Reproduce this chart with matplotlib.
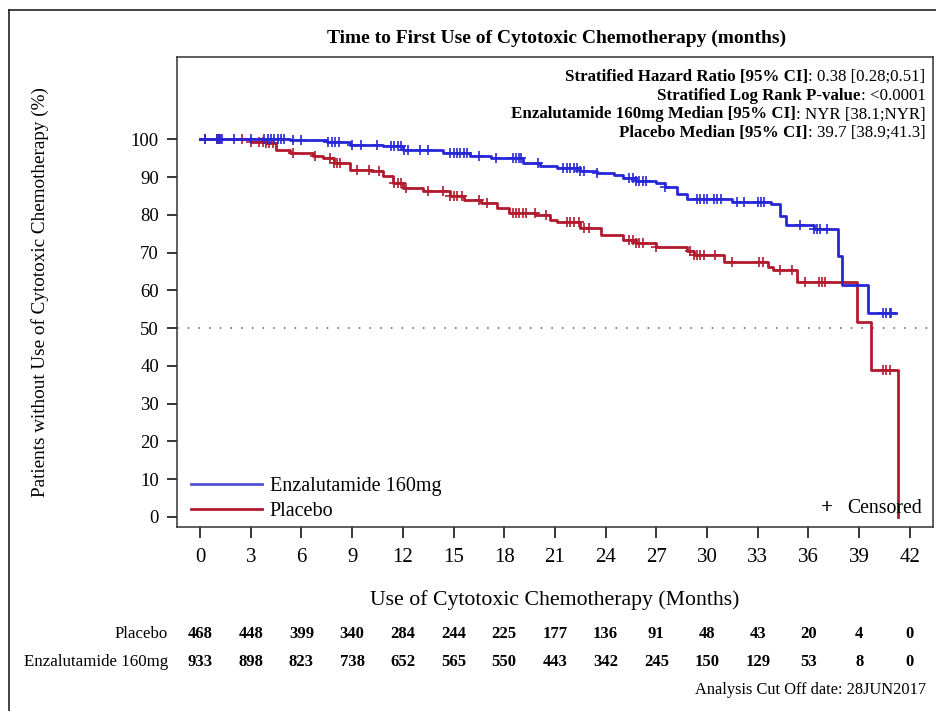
import matplotlib
matplotlib.use("Agg")
import matplotlib.pyplot as plt
import numpy as np
from matplotlib.lines import Line2D
from matplotlib.offsetbox import TextArea, HPacker, VPacker, AnchoredOffsetbox
from matplotlib.transforms import blended_transform_factory

plt.rcParams['font.family'] = ['Liberation Serif', 'DejaVu Serif']

# Kaplan-Meier step data (months, % without chemotherapy)
enza_t = [0, 5.3, 7.5, 8.9, 10.8, 12.0, 14.4, 16.0, 17.2, 19.1, 20.1, 21.1, 22.5,
          23.5, 24.5, 25.0, 25.8, 27.0, 27.5, 28.2, 28.8, 31.5, 33.8, 34.3, 34.7,
          36.3, 37.75, 37.97, 39.5]
enza_s = [100, 99.8, 99.4, 98.5, 98.1, 97.2, 96.4, 95.5, 95.0, 93.8, 92.8, 92.4, 91.5,
          91.0, 90.5, 89.8, 89.0, 88.3, 87.4, 85.5, 84.3, 83.5, 82.8, 79.6, 77.4,
          76.2, 69.0, 61.5, 54.0]
enza_end = 41.2

plac_t = [0, 3.0, 3.9, 4.5, 5.3, 6.7, 7.3, 7.9, 8.9, 10.1, 10.8, 11.4, 12.0, 13.2,
          14.8, 15.6, 16.6, 17.6, 18.3, 19.9, 20.7, 21.1, 22.5, 23.7, 25.0, 25.8,
          27.0, 28.8, 29.2, 31.0, 33.6, 33.9, 35.3, 38.85, 39.7, 41.3]
plac_s = [100, 99.4, 99.0, 97.2, 96.4, 95.5, 95.0, 93.7, 91.9, 91.5, 90.2, 88.4, 87.1,
          86.2, 84.9, 84.0, 83.1, 81.8, 80.5, 80.0, 78.7, 78.2, 76.6, 74.7, 73.4, 72.5,
          71.6, 70.3, 69.4, 67.6, 66.3, 65.4, 62.3, 51.7, 39.0, 0.0]
plac_end = 41.3

# censoring times
enza_cens = [0.3, 1.0, 1.1, 1.2, 1.3, 2.0, 3.0, 3.8, 4.0, 4.2, 4.4, 4.6, 4.8, 5.0, 5.5,
             6.0, 7.6, 7.8, 8.0, 8.2, 9.0, 9.5, 10.5, 11.3, 11.5, 11.7, 11.9, 12.1,
             12.3, 13.0, 13.5, 14.8, 15.0, 15.2, 15.4, 15.6, 15.8, 16.5, 17.5, 18.5,
             18.7, 18.9, 19.0, 20.0, 21.5, 21.7, 21.9, 22.1, 22.3, 22.5, 22.7, 23.5,
             25.4, 25.6, 25.8, 26.0, 26.2, 26.4, 27.5, 29.4, 29.6, 29.8, 30.0, 30.4,
             30.6, 30.8, 31.8, 32.2, 33.0, 33.2, 33.4, 35.5, 36.3, 36.5, 36.7, 37.1,
             40.4, 40.6, 40.8, 40.9]
plac_cens = [0.3, 1.0, 1.1, 1.2, 2.5, 3.0, 3.5, 3.7, 3.9, 4.1, 4.3, 5.5, 6.8, 7.7, 7.9,
             8.1, 8.3, 9.3, 10.0, 10.6, 11.5, 11.7, 11.9, 12.2, 13.5, 14.4, 14.8, 15.0,
             15.2, 15.5, 16.5, 17.0, 18.5, 18.7, 18.9, 19.1, 19.3, 19.8, 20.5, 21.7,
             21.9, 22.1, 22.4, 22.7, 23.0, 25.4, 25.6, 25.8, 26.0, 26.2, 27.0, 29.0,
             29.2, 29.4, 29.6, 29.8, 30.5, 31.5, 33.1, 33.3, 34.3, 35.0, 35.8, 36.6,
             36.8, 37.0, 40.4, 40.6, 40.8]

months = list(range(0, 43, 3))
risk_plac = [468, 448, 399, 340, 284, 244, 225, 177, 136, 91, 48, 43, 20, 4, 0]
risk_enza = [933, 898, 823, 738, 652, 565, 550, 443, 342, 245, 150, 129, 53, 8, 0]

stats_rows = [
    ("Stratified Hazard Ratio [95% CI]", ": 0.38 [0.28;0.51]"),
    ("Stratified Log Rank P-value", ": <0.0001"),
    ("Enzalutamide 160mg Median [95% CI]", ": NYR [38.1;NYR]"),
    ("Placebo Median [95% CI]", ": 39.7 [38.9;41.3]"),
]

blue = '#2727d8'
red = '#b21a2e'


def km_at(t, s, times):
    idx = np.searchsorted(t, times, side='right') - 1
    return np.asarray(s)[idx]


fig = plt.figure(figsize=(9.37, 7.11), dpi=100)
ax = fig.add_axes([177 / 937, 1 - 527 / 711, 756 / 937, 470 / 711])

# 50% reference
ax.axhline(50, color='#555555', lw=1.1, ls=(0, (1, 6)), zorder=1)

l_enza, = ax.step(enza_t + [enza_end], enza_s + [enza_s[-1]], where='post',
                  color=blue, lw=2.0, label='Enzalutamide 160mg', zorder=3)
l_plac, = ax.step(plac_t + [plac_end], plac_s + [plac_s[-1]], where='post',
                  color=red, lw=2.0, label='Placebo', zorder=2)
ax.plot(enza_cens, km_at(enza_t, enza_s, enza_cens), ls='none', marker='+',
        ms=7, mew=1.2, color=blue, zorder=3)
ax.plot(plac_cens, km_at(plac_t, plac_s, plac_cens), ls='none', marker='+',
        ms=7, mew=1.2, color=red, zorder=2)

ax.set_xlim(-1.36, 43.37)
ax.set_ylim(-2.7, 121.8)
ax.set_xticks(months)
ax.set_yticks(range(0, 101, 10))
ax.tick_params(axis='x', direction='out', length=8, width=1.1, pad=7, labelsize=15)
ax.tick_params(axis='y', direction='out', length=7, width=1.1, pad=6, labelsize=13.5)
for sp in ax.spines.values():
    sp.set_linewidth(1.1)
    sp.set_color('#333333')

leg = ax.legend(handles=[Line2D([], [], color='#5050d8', lw=2),
                         Line2D([], [], color=red, lw=2)],
                labels=['Enzalutamide 160mg', 'Placebo'],
                loc='lower left', bbox_to_anchor=(0.0, -0.018), frameon=False,
                fontsize=14.5, handlelength=3.5, handletextpad=0.4,
                labelspacing=0.3, borderaxespad=0.3)

ax.text(0.86, 0.04, "+", transform=ax.transAxes, ha='center',
        va='center', fontsize=15, fontweight='bold')
ax.text(0.985, 0.04, "Censored", transform=ax.transAxes, ha='right',
        va='center', fontsize=14.2)

# statistics box, bold labels with plain values
rows = []
for bold, plain in stats_rows:
    rows.append(HPacker(children=[
        TextArea(bold, textprops=dict(fontsize=12.2, fontweight='bold')),
        TextArea(plain, textprops=dict(fontsize=12.2))], sep=0, pad=0,
        align='baseline'))
stats = VPacker(children=rows, sep=2, pad=0, align='right')
ax.add_artist(AnchoredOffsetbox(loc='upper right', child=stats, frameon=False,
                                bbox_to_anchor=(0.99, 0.975),
                                bbox_transform=ax.transAxes, pad=0,
                                borderpad=0))

fig.text(557 / 937, 1 - 38 / 711, "Time to First Use of Cytotoxic Chemotherapy (months)",
         ha='center', va='center', fontsize=14, fontweight='bold')
fig.text(555 / 937, 1 - 600 / 711, "Use of Cytotoxic Chemotherapy (Months)",
         ha='center', va='center', fontsize=15.7)
fig.text(40 / 937, 1 - 292 / 711, "Patients without Use of Cytotoxic Chemotherapy (%)",
         ha='center', va='center', rotation=90, fontsize=13.8)

# numbers at risk
tr = blended_transform_factory(ax.transData, fig.transFigure)
for name, vals, yp in [("Placebo", risk_plac, 634), ("Enzalutamide 160mg", risk_enza, 662)]:
    fig.text(168 / 937, 1 - yp / 711, name, ha='right', va='center', fontsize=12.2)
    for m, v in zip(months, vals):
        ax.text(m, 1 - yp / 711, str(v), transform=tr, ha='center', va='center',
                fontsize=12, fontweight='bold', clip_on=False)

fig.text(926 / 937, 1 - 690 / 711, "Analysis Cut Off date: 28JUN2017",
         ha='right', va='center', fontsize=11.8)

# page frame
fig.add_artist(Line2D([9 / 937, 9 / 937], [0, 1 - 10 / 711], transform=fig.transFigure,
                      color='#222222', lw=1.2))
fig.add_artist(Line2D([9 / 937, 1], [1 - 10 / 711, 1 - 10 / 711], transform=fig.transFigure,
                      color='#222222', lw=1.2))

fig.savefig('out.png', dpi=100)
